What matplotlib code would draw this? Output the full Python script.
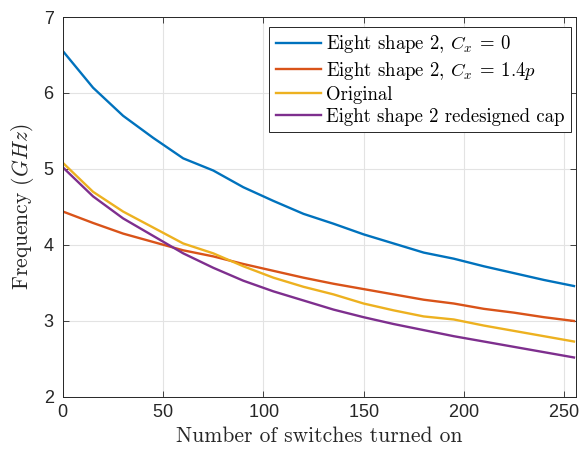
import matplotlib
matplotlib.use("Agg")
import matplotlib.pyplot as plt

plt.rcParams['font.family'] = 'serif'
plt.rcParams['font.serif'] = ['cmr10']
plt.rcParams['mathtext.fontset'] = 'cm'
plt.rcParams['axes.unicode_minus'] = False
plt.rcParams['axes.formatter.use_mathtext'] = True

# switches turned on
switches = [0, 15, 30, 45, 60, 75, 90, 105, 120, 135, 150, 165, 180, 195, 210, 225, 240, 255]

# resonance frequency in GHz
f_cx0 = [6.55, 6.07, 5.70, 5.41, 5.14, 4.98, 4.76, 4.58, 4.41, 4.28, 4.14, 4.02, 3.90, 3.82,
         3.72, 3.63, 3.54, 3.46]
f_cx14 = [4.44, 4.29, 4.15, 4.04, 3.93, 3.85, 3.75, 3.66, 3.57, 3.49, 3.42, 3.35, 3.28, 3.23,
          3.16, 3.11, 3.05, 3.00]
f_orig = [5.08, 4.70, 4.44, 4.23, 4.02, 3.89, 3.72, 3.57, 3.45, 3.35, 3.23, 3.14, 3.06, 3.02,
          2.94, 2.87, 2.80, 2.73]
f_redesign = [5.02, 4.64, 4.35, 4.12, 3.89, 3.70, 3.53, 3.39, 3.27, 3.15, 3.05, 2.96, 2.88, 2.80,
              2.73, 2.66, 2.59, 2.52]

labels = [r'Eight shape 2, $C_x\:=\:0$', r'Eight shape 2, $C_x\:=\:1.4p$', 'Original',
          'Eight shape 2 redesigned cap']
colors = ['#0072BD', '#D95319', '#EDB120', '#7E2F8E']

fig = plt.figure(figsize=(5.81, 4.57), dpi=100)
ax = fig.add_axes([0.1084, 0.1313, 0.8830, 0.8315])

for y, lab, c in zip([f_cx0, f_cx14, f_orig, f_redesign], labels, colors):
    ax.plot(switches, y, color=c, linewidth=1.7, label=lab)

ax.set_xlim(0, 256)
ax.set_ylim(2, 7)
ax.set_xticks([0, 50, 100, 150, 200, 250])
ax.set_yticks([2, 3, 4, 5, 6, 7])
ax.grid(True, color='#e3e3e3', linewidth=0.8)
ax.set_axisbelow(True)
ax.tick_params(direction='in', length=4, width=0.6, labelsize=13, colors='#262626',
               top=True, right=True)
ax.tick_params(axis='x', pad=5)
ax.tick_params(axis='y', pad=6)
for t in ax.get_xticklabels() + ax.get_yticklabels():
    t.set_family('Liberation Sans')
for s in ax.spines.values():
    s.set_color('#262626')
    s.set_linewidth(0.7)

ax.set_xlabel('Number of switches turned on', fontsize=15.5, color='#262626', labelpad=4)
ax.set_ylabel(r'Frequency $(GHz)$', fontsize=15.5, color='#262626', labelpad=5)

leg = ax.legend(loc='upper right', bbox_to_anchor=(0.991, 0.974), fontsize=13.5,
                fancybox=False, framealpha=1, edgecolor='#262626', handlelength=2.4,
                handletextpad=0.3, borderpad=0.35, labelspacing=0.22, borderaxespad=0)
leg.get_frame().set_linewidth(0.7)

fig.savefig('out.png', dpi=100)
